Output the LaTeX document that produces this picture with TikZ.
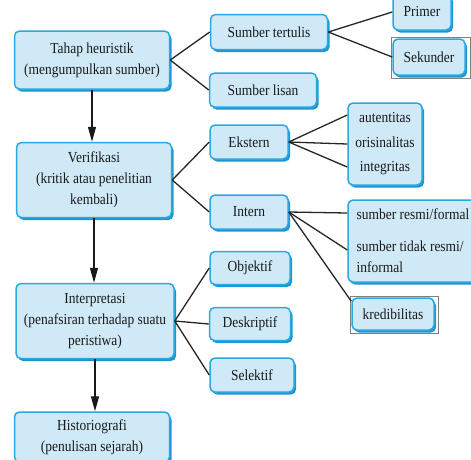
\documentclass[tikz,border=0pt]{standalone}
\usepackage{fontspec}
\setmainfont[FakeStretch=0.88]{Liberation Serif}
\usetikzlibrary{arrows.meta,shadows}
\definecolor{boxfill}{HTML}{CFE9F7}
\definecolor{boxline}{HTML}{2BA8E0}
\definecolor{boxshade}{HTML}{1B96D2}
\definecolor{inktext}{HTML}{1A1A1A}

\begin{document}
\begin{tikzpicture}[x=1pt, y=-1pt,
    box/.style={draw=boxline, fill=boxfill, line width=1.5pt, rounded corners=5pt, inner sep=0pt, align=center, text=inktext, font=\fontsize{15.3}{21}\selectfont, drop shadow={shadow xshift=2pt, shadow yshift=-2.5pt, fill=boxshade, opacity=1}},
    link/.style={line width=1.3pt, black!85},
    flow/.style={line width=1.4pt, black!90, -{Triangle[length=15pt,width=8pt]}},
    selframe/.style={draw=gray, line width=0.6pt}]
      \useasboundingbox (0,0) rectangle (471,459);
      % left column
      \node[box, minimum width=155pt, minimum height=58pt] (heur) at (92,60) {Tahap heuristik\\(mengumpulkan sumber)};
      \node[box, minimum width=155pt, minimum height=75pt] (verif) at (94,180) {Verifikasi\\(kritik atau penelitian\\kembali)};
      \node[box, minimum width=158pt, minimum height=75pt] (interp) at (95,321) {Interpretasi\\(penafsiran terhadap suatu\\peristiwa)};
      \node[box, minimum width=155pt, minimum height=50pt] (hist) at (92,437) {Historiografi\\(penulisan sejarah)};
      % second column
      \node[box, minimum width=117pt, minimum height=35pt] (tulis) at (269,32) {Sumber tertulis};
      \node[box, minimum width=107pt, minimum height=34pt] (lisan) at (263,90) {Sumber lisan};
      \node[box, minimum width=78pt, minimum height=34pt] (eks) at (249,142) {Ekstern};
      \node[box, minimum width=78pt, minimum height=34pt] (int) at (249,212) {Intern};
      \node[box, minimum width=80pt, minimum height=33pt] (obj) at (250,268) {Objektif};
      \node[box, minimum width=81pt, minimum height=33pt] (desk) at (250,324) {Deskriptif};
      \node[box, minimum width=84pt, minimum height=34pt] (sel) at (252,375) {Selektif};
      % third column
      \node[box, minimum width=58pt, minimum height=36pt] (prim) at (422,12) {Primer};
      \node[box, minimum width=72pt, minimum height=36pt] (sek) at (429,57) {Sekunder};
      \node[box, minimum width=74pt, minimum height=82pt, font=\fontsize{15.3}{24.5}\selectfont] (krit) at (385,144) {autentitas\\orisinalitas\\integritas};
      \node[box, minimum width=130pt, minimum height=82pt, align=left] (res) at (413,241) {sumber resmi/formal\\[11pt]sumber tidak resmi/\\informal};
      \node[box, minimum width=82pt, minimum height=32pt] (kred) at (393,314) {kredibilitas};
      \draw[selframe] ([shift={(-1pt,1pt)}]sek.north west) rectangle ([shift={(5pt,-3pt)}]sek.south east);
      \draw[selframe] ([shift={(-1pt,1pt)}]kred.north west) rectangle ([shift={(4pt,-3pt)}]kred.south east);
      % arrows
      \draw[flow] (heur.south) -- (heur.south |- verif.north);
      \draw[flow] (verif.south) -- (verif.south |- interp.north);
      \draw[flow] (interp.south) -- (interp.south |- hist.north);
      % branches
      \draw[link] (heur.east) -- (tulis.west);
      \draw[link] (heur.east) -- (lisan.west);
      \draw[link] (tulis.east) -- (prim.west);
      \draw[link] (tulis.east) -- (sek.west);
      \draw[link] (verif.east) -- (eks.west);
      \draw[link] (verif.east) -- (int.west);
      \draw[link] (eks.east) -- ([yshift=29pt]krit.west);
      \draw[link] (eks.east) -- (krit.west);
      \draw[link] (eks.east) -- ([yshift=-23pt]krit.west);
      \draw[link] (int.east) -- ([yshift=28pt]res.west);
      \draw[link] (int.east) -- ([yshift=-9pt]res.west);
      \draw[link] (int.east) -- ([yshift=-4pt]kred.north west);
      \draw[link] (interp.east) -- (obj.west);
      \draw[link] (interp.east) -- (desk.west);
      \draw[link] (interp.east) -- (sel.west);
    \end{tikzpicture}
\end{document}
